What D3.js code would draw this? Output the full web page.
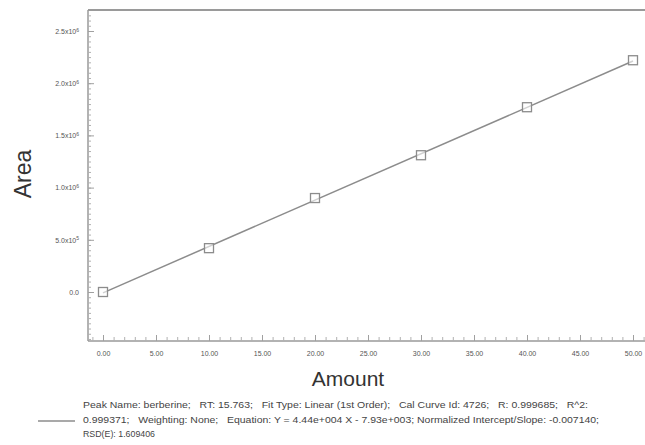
<!DOCTYPE html>
<html lang="en">
<head>
  <meta charset="utf-8">
  <title>Calibration curve - berberine</title>
  <script src="https://d3js.org/d3.v7.min.js"></script>
  <style>
    body { margin: 0; background: #fff; }
    text { font-family: "Liberation Sans", Arial, sans-serif; }
    text.foot { white-space: pre; }
  </style>
</head>
<body>
<div id="my_dataviz"></div>
<script>
// calibration standards (amount vs peak area)
const amounts = [0, 10, 20, 30, 40, 50];
const areas = [0.0e6, 0.42e6, 0.90e6, 1.31e6, 1.77e6, 2.22e6];

// fitted curve, from the printed equation
const fitSlope = 4.44e4;
const fitIntercept = -7.93e3;
const fitRange = [0, 50];

// axis ticks
const xTicks = [0, 5, 10, 15, 20, 25, 30, 35, 40, 45, 50];
const yTicks = [0, 5e5, 1e6, 1.5e6, 2e6, 2.5e6];
const yTickMantissa = ["0.0", "5.0", "1.0", "1.5", "2.0", "2.5"];
const yTickExponent = ["", "5", "6", "6", "6", "6"];

const footerLines = [
  "Peak Name: berberine;   RT: 15.763;   Fit Type: Linear (1st Order);   Cal Curve Id: 4726;   R: 0.999685;   R^2:",
  "0.999371;   Weighting: None;   Equation: Y = 4.44e+004 X - 7.93e+003; Normalized Intercept/Slope: -0.007140;",
  "RSD(E): 1.609406"
];

const W = 645, H = 445;
const plot = {left: 88, right: 645, top: 10, bottom: 341};

const svg = d3.select("#my_dataviz")
  .append("svg")
    .attr("width", W)
    .attr("height", H);

const x = d3.scaleLinear().domain([0, 50]).range([103, 633]);
const y = d3.scaleLinear().domain([0, 2.5e6]).range([292, 31]);

const axisColor = "#9a9a9a";

// frame lines (left, top, bottom)
svg.append("line").attr("x1", plot.left).attr("x2", plot.left)
  .attr("y1", plot.top).attr("y2", plot.bottom)
  .attr("stroke", axisColor).attr("stroke-width", 1.5);
svg.append("line").attr("x1", plot.left).attr("x2", plot.right)
  .attr("y1", plot.top).attr("y2", plot.top)
  .attr("stroke", axisColor).attr("stroke-width", 2);
svg.append("line").attr("x1", plot.left).attr("x2", plot.right)
  .attr("y1", plot.bottom).attr("y2", plot.bottom)
  .attr("stroke", axisColor).attr("stroke-width", 1.5);

// minor ticks
const xMinor = d3.range(-1, 52, 1);
svg.append("g")
  .attr("transform", `translate(0,${plot.bottom})`)
  .call(d3.axisBottom(x).tickValues(xMinor).tickSizeInner(-4).tickSizeOuter(0).tickFormat(""))
  .call(g => g.select(".domain").remove())
  .call(g => g.selectAll("line").attr("stroke", "#b0b0b0"));

const yMinor = d3.range(-9, 54, 1).map(i => i * 5e4);
svg.append("g")
  .attr("transform", `translate(${plot.left},0)`)
  .call(d3.axisLeft(y).tickValues(yMinor).tickSizeInner(-3).tickSizeOuter(0).tickFormat(""))
  .call(g => g.select(".domain").remove())
  .call(g => g.selectAll("line").attr("stroke", "#b0b0b0"));

// X axis, major ticks and labels
svg.append("g")
  .attr("transform", `translate(0,${plot.bottom})`)
  .call(d3.axisBottom(x).tickValues(xTicks).tickSizeInner(-6).tickSizeOuter(0)
    .tickPadding(10).tickFormat(d3.format(".2f")))
  .call(g => g.select(".domain").remove())
  .call(g => g.selectAll("line").attr("stroke", "#a0a0a0"))
  .call(g => g.selectAll("text")
    .attr("font-family", "Liberation Sans, Arial, sans-serif")
    .attr("font-size", 7).attr("fill", "#555"));

// Y axis, major ticks and labels with superscripts
svg.append("g")
  .attr("transform", `translate(${plot.left},0)`)
  .call(d3.axisLeft(y).tickValues(yTicks).tickSizeInner(-6).tickSizeOuter(0)
    .tickPadding(9).tickFormat(""))
  .call(g => g.select(".domain").remove())
  .call(g => g.selectAll("line").attr("stroke", "#a0a0a0"))
  .call(g => g.selectAll("text")
    .attr("font-family", "Liberation Sans, Arial, sans-serif")
    .attr("font-size", 7).attr("fill", "#555")
    .each(function(d, i) {
      const t = d3.select(this);
      t.append("tspan").text(yTickMantissa[i] + (yTickExponent[i] ? "x10" : ""));
      if (yTickExponent[i]) {
        t.append("tspan").attr("dy", "-0.45em").attr("font-size", 5).text(yTickExponent[i]);
      }
    }));

// fitted line
const fitLine = d3.line().x(d => x(d)).y(d => y(fitSlope * d + fitIntercept));
svg.append("path")
  .datum(fitRange)
  .attr("d", fitLine)
  .attr("fill", "none")
  .attr("stroke", "#8c8c8c")
  .attr("stroke-width", 1.5);

// standards (open squares)
svg.selectAll("rect.pt")
  .data(amounts)
  .join("rect")
    .attr("class", "pt")
    .attr("x", (d, i) => x(d) - 4.5)
    .attr("y", (d, i) => y(areas[i]) - 4.5)
    .attr("width", 9)
    .attr("height", 9)
    .attr("fill", "#fff")
    .attr("fill-opacity", 0.6)
    .attr("stroke", "#8c8c8c")
    .attr("stroke-width", 1.3);

// axis titles
svg.append("text")
  .attr("x", 348).attr("y", 386)
  .attr("text-anchor", "middle")
  .attr("font-size", 21)
  .attr("fill", "#333")
  .text("Amount");

svg.append("text")
  .attr("transform", "translate(31,174) rotate(-90)")
  .attr("text-anchor", "middle")
  .attr("font-size", 23)
  .attr("fill", "#333")
  .text("Area");

// footer legend
svg.append("line")
  .attr("x1", 38).attr("x2", 75)
  .attr("y1", 421).attr("y2", 421)
  .attr("stroke", "#8c8c8c").attr("stroke-width", 1.3);

const footerWidths = [505, 516, 72];
svg.selectAll("text.foot")
  .data(footerLines)
  .join("text")
    .attr("class", "foot")
    .attr("x", 83)
    .attr("y", (d, i) => 408 + i * 14.5)
    .attr("font-size", 9.5)
    .attr("fill", "#444")
    .attr("textLength", (d, i) => footerWidths[i])
    .attr("lengthAdjust", "spacingAndGlyphs")
    .text(d => d);
</script>
</body>
</html>
